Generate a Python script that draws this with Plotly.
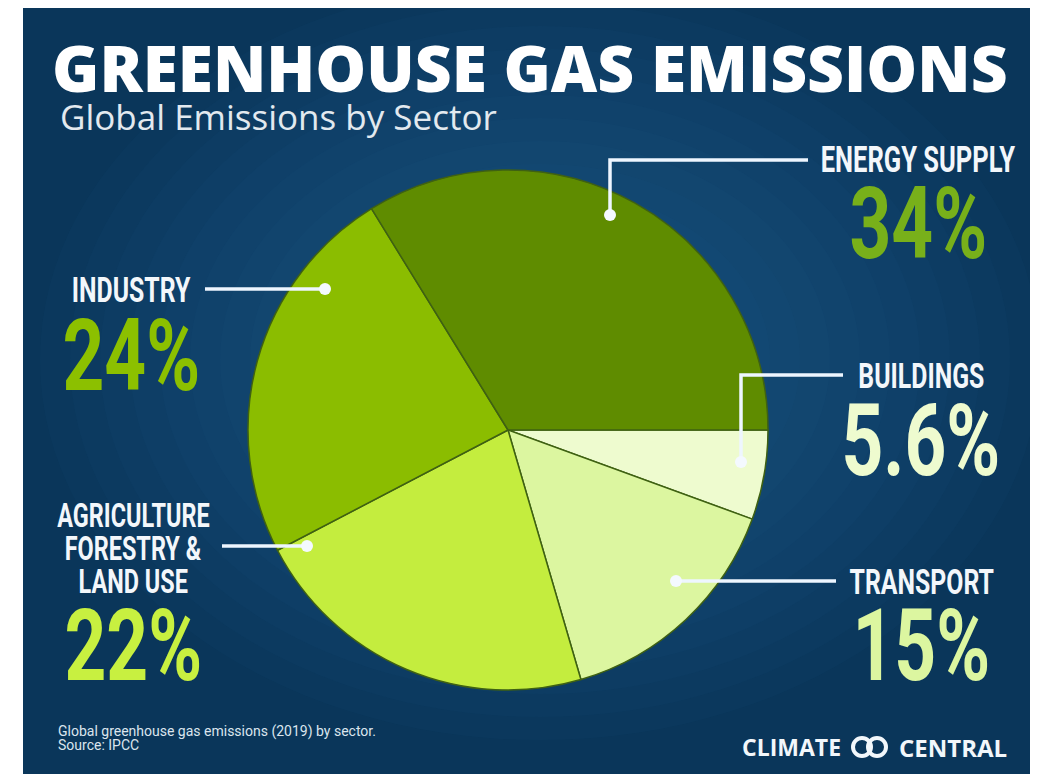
import plotly.graph_objects as go

# ---------------- data ----------------
sectors = ["Buildings", "Transport", "Agriculture, Forestry & Land Use", "Industry", "Energy Supply"]
shares = [5.6, 15, 22, 24, 34]
slice_colors = ["#eefbcf", "#dcf6a0", "#c4ed3e", "#8bbd00", "#5f8c00"]
label_lines = [["BUILDINGS"], ["TRANSPORT"], ["AGRICULTURE", "FORESTRY &", "LAND USE"], ["INDUSTRY"], ["ENERGY SUPPLY"]]
pct_colors = ["#eefbcf", "#dcf6a0", "#c8f040", "#8cc000", "#78b01a"]
title = "GREENHOUSE GAS EMISSIONS"
subtitle = "Global Emissions by Sector"
footnote_lines = ["Global greenhouse gas emissions (2019) by sector.", "Source: IPCC"]

# ---------------- layout helpers ----------------
W, H = 1038, 778
OFF = 8  # page offset of the rendered figure


def X(p):
    return (p - OFF) / W


def Y(p):
    return 1 - (p - OFF) / H


COND = "Roboto, Lato, sans-serif"        # squeezed horizontally by post script
HEAD = "Open Sans, Lato, sans-serif"

# label placement (reference pixel centres)
label_pos = [
    dict(cx=921, ys=[376], py=440, ls=36),
    dict(cx=921, ys=[582], py=645, ls=36),
    dict(cx=133, ys=[515, 548, 581], py=645, ls=34),
    dict(cx=131, ys=[290], py=355, ls=36),
    dict(cx=918, ys=[160], py=223, ls=37),
]
# leader lines: list of points (pixels), last point is the dot on the slice
leaders = [
    [(843, 375), (741, 375), (741, 462)],
    [(836, 581), (676, 581)],
    [(222, 546), (307, 546)],
    [(205, 289), (325, 289)],
    [(808, 160), (610, 160), (610, 215)],
]

fig = go.Figure()
fig.add_trace(go.Pie(
    labels=sectors, values=shares, sort=False, direction="clockwise", rotation=90,
    marker=dict(colors=slice_colors, line=dict(color="#3f6112", width=1.5)),
    textinfo="none", hoverinfo="label+percent", showlegend=False,
    domain=dict(x=[X(248), X(768)], y=[Y(690), Y(170)]),
))

shapes = []
# background panel
shapes.append(dict(type="rect", xref="paper", yref="paper", x0=X(23), x1=1, y0=Y(774), y1=1,
                   fillcolor="#0a365a", line=dict(width=0), layer="below"))
# soft radial glow
n = 14
for i in range(n):
    rx = 500 - i * 30
    ry = 380 - i * 23
    cx, cy = 540, 360
    shapes.append(dict(type="circle", xref="paper", yref="paper",
                       x0=X(cx - rx), x1=X(cx + rx), y0=Y(cy + ry), y1=Y(cy - ry),
                       fillcolor="#1d6398", opacity=0.06, line=dict(width=0), layer="below"))
# leader lines and dots
for pts in leaders:
    path = "M " + " L ".join(f"{X(a)},{Y(b)}" for a, b in pts)
    shapes.append(dict(type="path", xref="paper", yref="paper", path=path,
                       line=dict(color="#eef6ff", width=3.5), layer="above"))
    dx, dy = pts[-1]
    shapes.append(dict(type="circle", xref="paper", yref="paper",
                       x0=X(dx - 6), x1=X(dx + 6), y0=Y(dy + 6), y1=Y(dy - 6),
                       fillcolor="#f4f9ff", line=dict(width=0), layer="above"))
# logo rings
for cx in (862, 877):
    shapes.append(dict(type="circle", xref="paper", yref="paper",
                       x0=X(cx - 9), x1=X(cx + 9), y0=Y(747 + 9), y1=Y(747 - 9),
                       line=dict(color="#f2f7fb", width=4), fillcolor="rgba(0,0,0,0)", layer="above"))

annotations = []


def ann(text, x, y, size, color, family, xanchor="center", weight="normal", align="center"):
    annotations.append(dict(text=text, x=X(x), y=Y(y), xref="paper", yref="paper",
                            xanchor=xanchor, yanchor="middle", showarrow=False, align=align,
                            font=dict(size=size, color=color, family=family, weight=weight)))


ann(title, 50, 68, 64, "#ffffff", HEAD, xanchor="left", weight=800)
ann(subtitle, 58, 116, 35, "#e2e9ef", HEAD, xanchor="left")

for lines, pos, val, col in zip(label_lines, label_pos, shares, pct_colors):
    for ln, yy in zip(lines, pos["ys"]):
        ann(ln, pos["cx"], yy, pos["ls"], "#f3f7fb", COND, weight="bold")
    ann(f"{val:g}%", pos["cx"], pos["py"], 100, col, COND, weight="bold")

for ln, yy in zip(footnote_lines, [731, 745]):
    ann(ln, 56, yy, 14, "#dbe5ee", COND, xanchor="left", align="left")
ann("CLIMATE", 843, 747, 23, "#f2f7fb", HEAD, xanchor="right", weight="bold")
ann("CENTRAL", 897, 747, 24, "#f2f7fb", HEAD, xanchor="left", weight="bold")

fig.update_layout(
    width=W, height=H, margin=dict(l=0, r=0, t=0, b=0),
    paper_bgcolor="#ffffff", plot_bgcolor="#ffffff",
    shapes=shapes, annotations=annotations,
)

# condensed look: narrow the large Roboto texts horizontally (they stay real text)
post = """
var gd = document.getElementById('{plot_id}');
var texts = gd.querySelectorAll('g.annotation text.annotation-text');
texts.forEach(function(t){
  var fam = t.style.fontFamily || '';
  if (fam.indexOf('Roboto') < 0) return;
  var fs = parseFloat(t.style.fontSize);
  if (fs < 20) return;
  var s = fs >= 60 ? 0.73 : 0.69;
  var b = t.getBBox();
  var anchor = t.getAttribute('text-anchor');
  var px = anchor === 'start' ? b.x : (anchor === 'end' ? b.x + b.width : b.x + b.width / 2);
  var old = t.getAttribute('transform') || '';
  t.setAttribute('transform', (old + ' translate(' + px + ',0) scale(' + s + ',1) translate(' + (-px) + ',0)').trim());
});
"""
fig.write_html("out.html", post_script=post)
